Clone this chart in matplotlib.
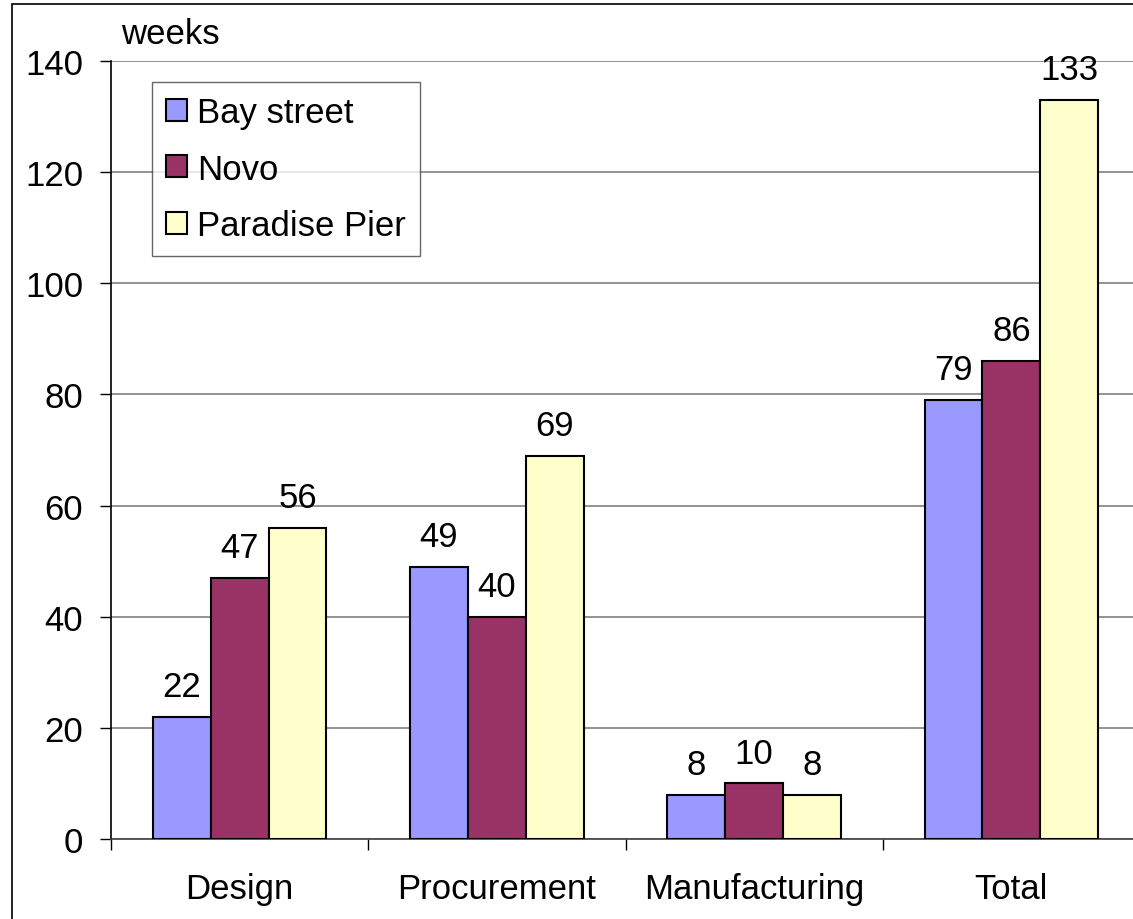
import numpy as np
import matplotlib
matplotlib.use('Agg')
import matplotlib.pyplot as plt
from matplotlib.lines import Line2D

plt.rcParams['font.family'] = ['Liberation Sans', 'DejaVu Sans']

categories = ['Design', 'Procurement', 'Manufacturing', 'Total']
series = ['Bay street', 'Novo', 'Paradise Pier']
bay_street = [22, 49, 8, 79]
novo = [47, 40, 10, 86]
paradise_pier = [56, 69, 8, 133]
colors = ['#9999FF', '#993366', '#FFFFCC']

fs = 25

fig = plt.figure(figsize=(11.33, 9.2), dpi=100)
ax = fig.add_axes([111/1133, 80/920, 1029/1133, 778/920])

# outer chart border (left and top only, the original is cropped)
x0 = 11.5 / 1133
y1 = 915.5 / 920
fig.add_artist(Line2D([x0, x0, 1.0], [0.0, y1, y1], transform=fig.transFigure,
                      color='black', linewidth=1.2, solid_joinstyle='miter'))

x = np.arange(len(categories))
w = 0.225
for i, (vals, name) in enumerate(zip([bay_street, novo, paradise_pier], series)):
    bars = ax.bar(x + (i - 1) * w, vals, w, color=colors[i], edgecolor='black',
                  linewidth=1.5, label=name, zorder=3)
    for b, v in zip(bars, vals):
        ax.annotate(str(v), (b.get_x() + b.get_width() / 2, v), xytext=(0, 10),
                    textcoords='offset points', ha='center', va='bottom', fontsize=fs)

ax.set_xlim(-0.5, 3.5)
ax.set_ylim(0, 140)
ax.set_yticks(range(0, 141, 20))
ax.yaxis.grid(True, color='#808080', linewidth=1.2, zorder=0)
ax.tick_params(axis='y', labelsize=fs, length=8, width=1, pad=12)

ax.set_xticks(x)
ax.set_xticklabels(categories, fontsize=fs)
ax.set_xticks(np.arange(-0.5, 4, 1), minor=True)
ax.tick_params(axis='x', which='major', length=0, pad=24)
ax.tick_params(axis='x', which='minor', length=8, width=1)

for s in ['top', 'right']:
    ax.spines[s].set_visible(False)
ax.spines['left'].set_linewidth(1.2)
ax.spines['bottom'].set_linewidth(1.2)
ax.spines['bottom'].set_color('#404040')

ax.annotate('weeks', (0, 1), xycoords='axes fraction', xytext=(7, 8),
            textcoords='offset points', fontsize=fs, ha='left', va='bottom')

leg = ax.legend(loc='upper left', bbox_to_anchor=(0.04, 0.973), borderaxespad=0,
                fontsize=fs, fancybox=False, frameon=True, handlelength=0.6,
                handleheight=0.6, handletextpad=0.3, labelspacing=0.68,
                borderpad=0.4)
leg.get_frame().set_edgecolor('#404040')
leg.get_frame().set_linewidth(1.0)

fig.savefig('out.png', dpi=100)
